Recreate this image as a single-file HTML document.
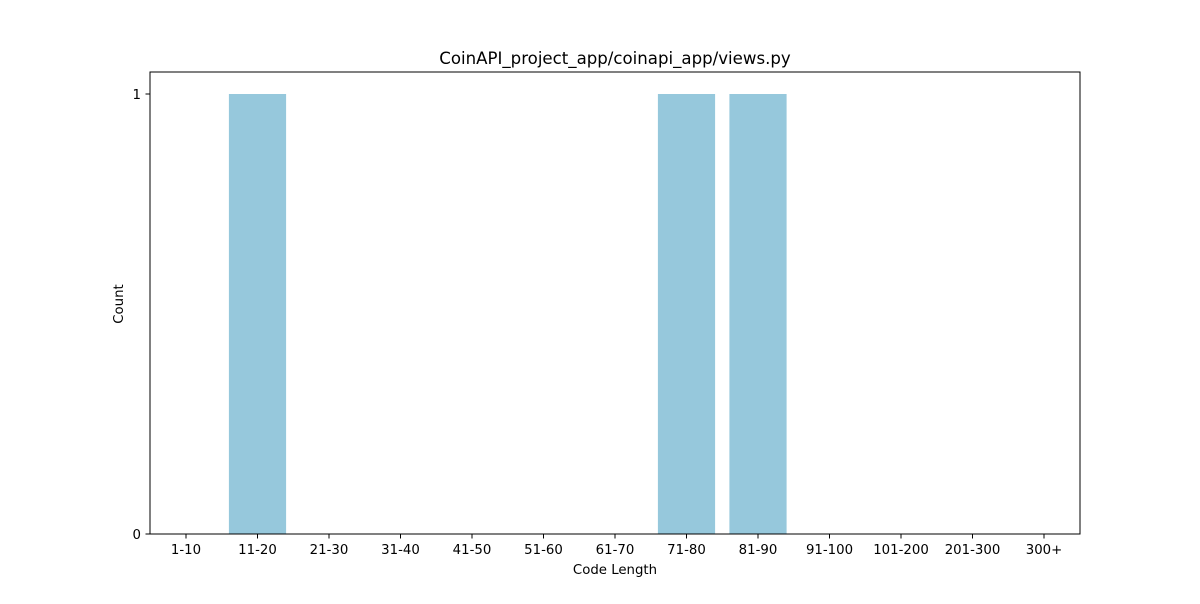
<!DOCTYPE html>
<html><head><meta charset="utf-8"><style>
body{margin:0;background:#fff;font-family:"DejaVu Sans","Liberation Sans",sans-serif;}
svg text{font-family:"DejaVu Sans","Liberation Sans",sans-serif;}
</style></head><body>
<svg width="1200" height="600" xmlns="http://www.w3.org/2000/svg">
<rect width="1200" height="600" fill="#fff"/>
<text x="615" y="64" font-size="16.6" text-anchor="middle" fill="#000">CoinAPI_project_app/coinapi_app/views.py</text>
<g id="bars"></g>
<rect x="150" y="72" width="930" height="462" fill="none" stroke="#000" stroke-width="1"/>
<g id="xt"></g>
<g id="yt"></g>
<text x="615" y="574" font-size="13.3" text-anchor="middle">Code Length</text>
<text x="123" y="304" font-size="13.3" text-anchor="middle" transform="rotate(-90 123 304)">Count</text>
</svg>
<script>
const categories=["1-10","11-20","21-30","31-40","41-50","51-60","61-70","71-80","81-90","91-100","101-200","201-300","300+"];
const counts=[0,1,0,0,0,0,0,1,1,0,0,0,0];
const yTicks=[0,1];
const NS="http://www.w3.org/2000/svg";
const step=71.5;
function xPos(i){return 186+step*i;}
function yPos(v){return 534-440*v;}
function mk(t,a,p){const e=document.createElementNS(NS,t);for(const k in a)e.setAttribute(k,a[k]);p.appendChild(e);return e;}
const bars=document.getElementById('bars'),xt=document.getElementById('xt'),yt=document.getElementById('yt');
const bw=step*0.8;
categories.forEach((c,i)=>{
  const v=counts[i];
  if(v>0){const r=mk('rect',{x:xPos(i)-bw/2,y:yPos(v),width:bw,height:yPos(0)-yPos(v),fill:'#96c8dc'},bars);
  
  }
  const l=mk('line',{x1:xPos(i),x2:xPos(i),y1:534,y2:538.5,stroke:'#000'},xt);
  
  
  const t=mk('text',{x:xPos(i),y:554,'font-size':13.3,'text-anchor':'middle'},xt);t.textContent=c;
  
  
});
yTicks.forEach(v=>{
  const l=mk('line',{x1:145.5,x2:150,y1:yPos(v),y2:yPos(v),stroke:'#000'},yt);
  
  
  const t=mk('text',{x:141,y:yPos(v)+5,'font-size':13.3,'text-anchor':'end'},yt);t.textContent=v;
  
  
});
</script>
</body></html>
